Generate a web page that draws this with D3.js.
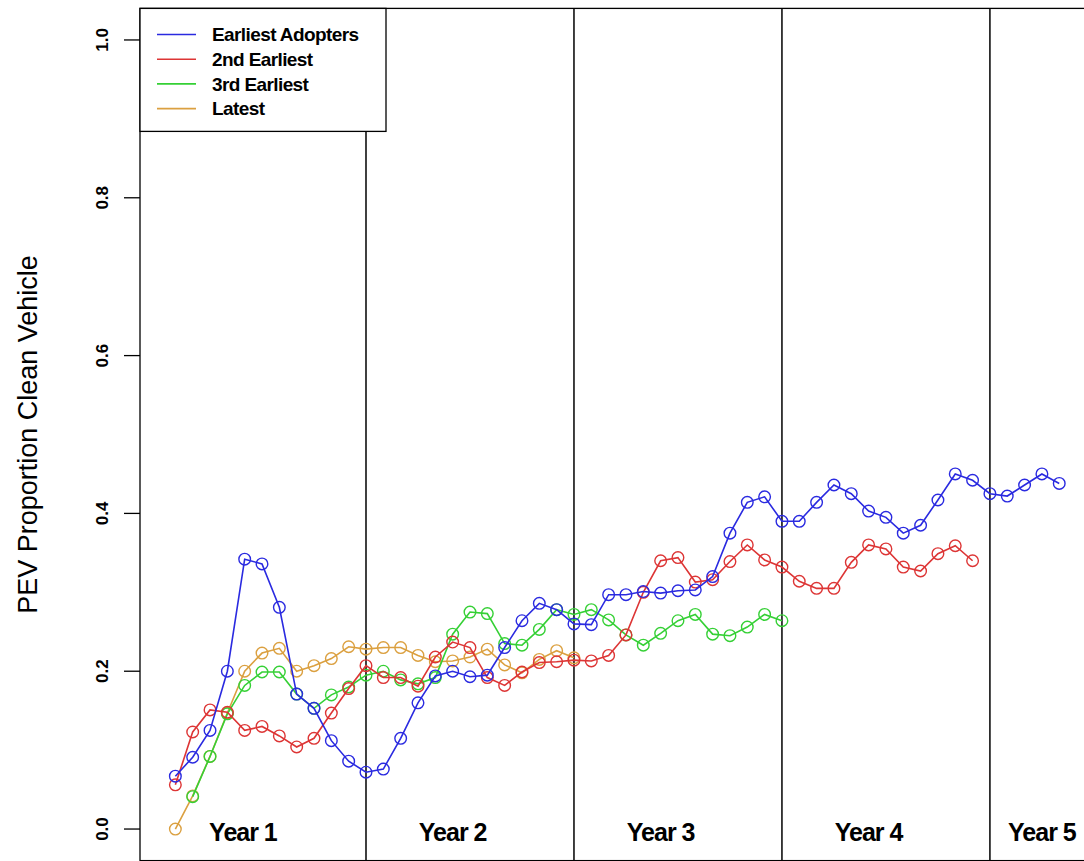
<!DOCTYPE html>
<html>
<head>
<meta charset="utf-8">
<script src="https://cdn.jsdelivr.net/npm/d3@7"></script>
<style>
  body { margin: 0; background: #fff; }
  svg { display: block; }
  text { font-family: "Liberation Sans", Arial, sans-serif; }
</style>
</head>
<body>
<svg id="chart" width="1084" height="861"></svg>
<script>
// monthly share of clean vehicles by adopter group (index 0 = first month)
const earliest = [0.067, 0.091, 0.125, 0.200, 0.342, 0.336, 0.281, 0.171, 0.153, 0.112, 0.086, 0.072,
  0.076, 0.115, 0.160, 0.194, 0.200, 0.193, 0.195, 0.230, 0.264, 0.286, 0.278, 0.260,
  0.259, 0.297, 0.297, 0.301, 0.299, 0.302, 0.303, 0.320, 0.375, 0.414, 0.421, 0.390,
  0.390, 0.414, 0.436, 0.425, 0.403, 0.395, 0.375, 0.385, 0.417, 0.450, 0.442, 0.425,
  0.422, 0.436, 0.450, 0.438];
const second = [0.056, 0.123, 0.151, 0.148, 0.125, 0.130, 0.118, 0.104, 0.115, 0.147, 0.178, 0.207,
  0.192, 0.192, 0.181, 0.218, 0.237, 0.230, 0.192, 0.182, 0.199, 0.211, 0.212, 0.214,
  0.213, 0.220, 0.246, 0.300, 0.340, 0.344, 0.313, 0.316, 0.339, 0.360, 0.341, 0.332,
  0.314, 0.305, 0.305, 0.338, 0.360, 0.355, 0.332, 0.327, 0.349, 0.359, 0.340];
// 3rd earliest group starts one month later
const third = [0.041, 0.092, 0.146, 0.182, 0.199, 0.199, 0.171, 0.153, 0.170, 0.180, 0.195,
  0.200, 0.189, 0.184, 0.192, 0.247, 0.275, 0.273, 0.235, 0.233, 0.253, 0.278, 0.272,
  0.278, 0.265, 0.246, 0.233, 0.248, 0.264, 0.272, 0.247, 0.245, 0.256, 0.272, 0.264];
const latest = [0.000, 0.042, 0.092, 0.147, 0.200, 0.223, 0.229, 0.200, 0.207, 0.216, 0.231, 0.228,
  0.230, 0.230, 0.220, 0.212, 0.213, 0.218, 0.228, 0.208, 0.198, 0.215, 0.226, 0.217];

const seriesNames = ['Earliest Adopters', '2nd Earliest', '3rd Earliest', 'Latest'];
const seriesStart = [0, 0, 1, 0];
const seriesColors = ['#2a2ae0', '#dd3535', '#35d035', '#dba040'];
const yTicks = [0, 0.2, 0.4, 0.6, 0.8, 1.0];
const yearLabels = ['Year 1', 'Year 2', 'Year 3', 'Year 4', 'Year 5'];
const yearLabelAt = [3.9, 16, 28, 40, 50];
const yearBreaks = [11, 23, 35, 47];

const svg = d3.select('#chart');

// R style: range extended by 4% on both sides
const x = d3.scaleLinear().domain([-2.04, 53.04]).range([140, 1094.6]);
const y = d3.scaleLinear().domain([-0.04, 1.04]).range([860.6, 8.4]);

// plot box
svg.append('rect')
  .attr('x', x(-2.04)).attr('y', y(1.04))
  .attr('width', x(53.04) - x(-2.04)).attr('height', y(-0.04) - y(1.04))
  .attr('fill', 'none').attr('stroke', '#000').attr('stroke-width', 1.3);

// y axis
const yAxis = svg.append('g').attr('transform', `translate(${x(-2.04)},0)`)
  .call(d3.axisLeft(y).tickValues(yTicks).tickSize(16).tickFormat(d3.format('.1f')));
yAxis.select('.domain').remove();
yAxis.selectAll('line').attr('stroke', '#000').attr('stroke-width', 1.3);
yAxis.selectAll('text')
  .attr('transform', d => `translate(-38,${y(d)}) rotate(-90)`)
  .attr('x', 0).attr('y', 0).attr('dy', '0.35em')
  .attr('text-anchor', 'middle')
  .style('font-size', '17px').style('font-weight', 'bold')
  .style('font-family', '"Liberation Sans", Arial, sans-serif');
yAxis.selectAll('.tick').attr('transform', null);
yAxis.selectAll('.tick line').attr('transform', d => `translate(0,${y(d)})`);

svg.append('text')
  .attr('transform', `translate(37,${y(0.5)}) rotate(-90)`)
  .attr('text-anchor', 'middle')
  .style('font-size', '27px')
  .text('PEV Proportion Clean Vehicle');

// year separators
svg.selectAll('line.year')
  .data(yearBreaks)
  .join('line')
  .attr('class', 'year')
  .attr('x1', d => x(d)).attr('x2', d => x(d))
  .attr('y1', y(1.04)).attr('y2', y(-0.04))
  .attr('stroke', '#000').attr('stroke-width', 1.5);

svg.selectAll('text.yearlab')
  .data(yearLabels)
  .join('text')
  .attr('class', 'yearlab')
  .attr('x', (d, i) => x(yearLabelAt[i]))
  .attr('y', 841)
  .attr('text-anchor', 'middle')
  .style('font-size', '25px').style('font-weight', 'bold')
  .style('letter-spacing', '-1px')
  .text(d => d);

// series, latest group drawn first so earlier groups sit on top
const allSeries = [earliest, second, third, latest];

[3, 2, 1, 0].forEach(k => {
  const vals = allSeries[k];
  const off = seriesStart[k];
  const line = d3.line().x((d, i) => x(i + off)).y(d => y(d));
  const g = svg.append('g');
  g.append('path')
    .datum(vals)
    .attr('d', line)
    .attr('fill', 'none')
    .attr('stroke', seriesColors[k])
    .attr('stroke-width', 1.6);
  g.selectAll('circle')
    .data(vals)
    .join('circle')
    .attr('cx', (d, i) => x(i + off))
    .attr('cy', d => y(d))
    .attr('r', 5.8)
    .attr('fill', 'none')
    .attr('stroke', seriesColors[k])
    .attr('stroke-width', 1.4);
});

// legend
const legend = svg.append('g');
legend.append('rect')
  .attr('x', 140).attr('y', 8.4).attr('width', 246).attr('height', 123)
  .attr('fill', '#fff').attr('stroke', '#000').attr('stroke-width', 1.3);
const rows = legend.selectAll('g.row')
  .data(seriesNames)
  .join('g')
  .attr('class', 'row')
  .attr('transform', (d, i) => `translate(0,${34.5 + i * 24.7})`);
rows.append('line')
  .attr('x1', 157).attr('x2', 196)
  .attr('stroke', (d, i) => seriesColors[i]).attr('stroke-width', 1.6);
rows.append('text')
  .attr('x', 212).attr('dy', '0.35em')
  .style('font-size', '19px').style('font-weight', 'bold')
  .style('letter-spacing', '-0.6px')
  .text(d => d);
</script>
</body>
</html>
